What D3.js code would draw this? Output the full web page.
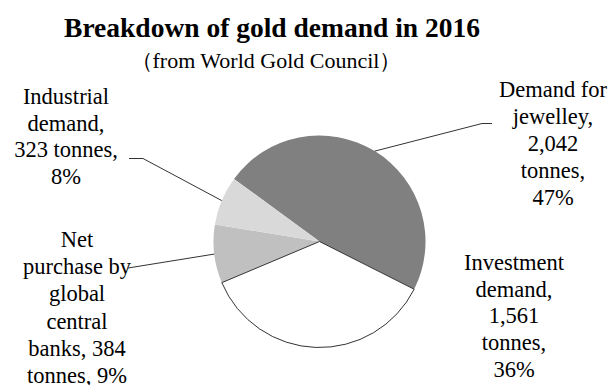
<html>
<head>
	<script src="https://d3js.org/d3.v7.min.js"></script>
</head>
<body style="margin:0; background:#fff">
	<svg></svg>
</body>
<script type="text/javascript">
	// gold demand 2016, tonnes
	var categories = ["Demand for jewelley", "Investment demand", "Net purchase by global central banks", "Industrial demand"];
	var tonnes = [2042, 1561, 384, 323];
	var percents = ["47%", "36%", "9%", "8%"];
	var labelLines = [
		["Demand for", "jewelley,", "2,042", "tonnes,", "47%"],
		["Investment", "demand,", "1,561", "tonnes,", "36%"],
		["Net", "purchase by", "global", "central", "banks, 384", "tonnes, 9%"],
		["Industrial", "demand,", "323 tonnes,", "8%"]
	];
	var colors = ["#808080", "#ffffff", "#c0c0c0", "#d9d9d9"];

	var width = 613, height = 385;
	var cx = 319.5, cy = 241.5, r = 106;
	var font = "Liberation Serif";

	var svg = d3.select("svg")
		.attr("width", width)
		.attr("height", height);

	svg.append("text")
		.attr("x", 272).attr("y", 37)
		.attr("text-anchor", "middle")
		.attr("font-family", font)
		.attr("font-size", 27.5)
		.attr("font-weight", "bold")
		.text("Breakdown of gold demand in 2016");
	svg.append("text")
		.attr("x", 266).attr("y", 68)
		.attr("text-anchor", "middle")
		.attr("font-family", font)
		.attr("font-size", 22)
		.text("\uFF08from World Gold Council\uFF09");

	var data = categories.map(function(c, i){ return {name: c, value: tonnes[i], pct: percents[i], lines: labelLines[i], color: colors[i]}; });

	var start = -53.8 * Math.PI / 180;
	var pie = d3.pie().sort(null).value(function(d){ return d.value; })
		.startAngle(start).endAngle(start + 2 * Math.PI);
	var arcs = pie(data);
	var arc = d3.arc().innerRadius(0).outerRadius(r);
	var edge = d3.arc().innerRadius(r).outerRadius(r);

	var g = svg.append("g").attr("transform", "translate(" + cx + "," + cy + ")");
	// draw investment slice last so its outline sits on top
	g.selectAll("path")
		.data([arcs[0], arcs[2], arcs[3], arcs[1]])
		.enter().append("path")
		.attr("d", arc)
		.attr("fill", function(d){ return d.data.color; })
		.attr("stroke", function(d){ return d.data.name == "Investment demand" ? "#333" : "none"; })
		.attr("stroke-width", 1);

	// label blocks: centre x, first baseline, line height, leader start
	var labelPos = [
		{x: 553, y: 97, lh: 27, lead: [[492, 123.5], [482, 123.5]]},
		{x: 514, y: 270, lh: 26.7, lead: null},
		{x: 77, y: 247, lh: 27.2, lead: [[128, 268]]},
		{x: 66, y: 104, lh: 26.7, lead: [[129, 158.5], [143, 158.5]]}
	];

	arcs.forEach(function(a, i){
		var p = labelPos[i];
		var t = svg.append("text")
			.attr("text-anchor", "middle")
			.attr("font-family", font)
			.attr("font-size", 22.5);
		a.data.lines.forEach(function(l, j){
			t.append("tspan").attr("x", p.x).attr("y", p.y + j * p.lh).text(l);
		});
		if (p.lead) {
			var c = edge.centroid(a);
			var pts = p.lead.concat([[cx + c[0], cy + c[1]]]);
			svg.append("path")
				.attr("d", d3.line()(pts))
				.attr("fill", "none")
				.attr("stroke", "#333")
				.attr("stroke-width", 1);
		}
	});
</script>
</html>
